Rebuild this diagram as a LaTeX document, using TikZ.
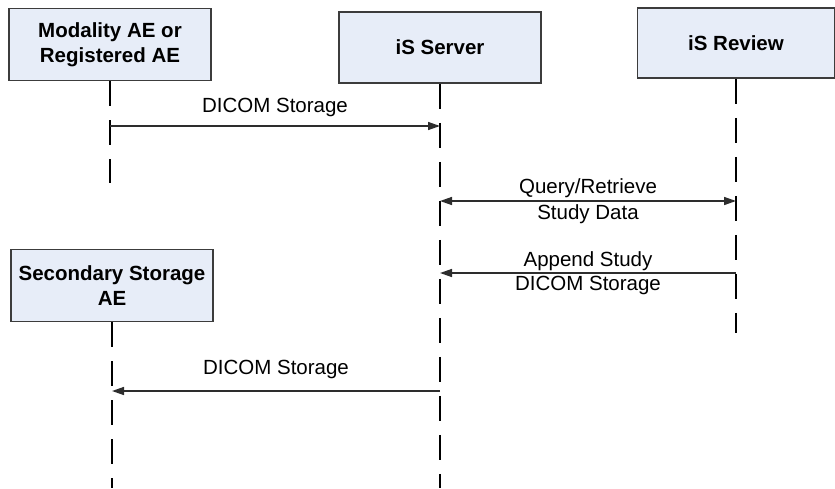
\documentclass[tikz,border=0pt]{standalone}
\usepackage{fontspec}
\setmainfont{Liberation Sans}
\usepackage{tikz}
\usetikzlibrary{arrows.meta}
\definecolor{actorfill}{RGB}{231,237,248}
\definecolor{actorline}{RGB}{60,60,60}
\definecolor{msgline}{RGB}{45,45,45}
\tikzstyle{msghead}=[>/.tip={Triangle[length=12pt,width=8pt]}]
\tikzstyle{actor}=[draw=actorline,line width=1.5pt,fill=actorfill,minimum width=202pt,minimum height=72pt,inner sep=0pt,align=center,font=\fontsize{20.5}{25}\selectfont\bfseries]
\tikzstyle{life} =[line width=2.5pt,dash pattern=on 25pt off 14pt]
\tikzstyle{msg}  =[line width=1.5pt,draw=msgline,msghead,->]
\tikzstyle{msgs} =[line width=1.5pt,draw=msgline,msghead,<->]
\tikzstyle{lbl}  =[font=\fontsize{20.5}{24}\selectfont,inner sep=2pt,align=center]

\begin{document}
\begin{tikzpicture}[x=1pt,y=-1pt]
	\useasboundingbox (0,0) rectangle (835,488);
	% participants
	\node[actor] (mod) at (110,44.5) {Modality AE or\\Registered AE};
	\node[actor,minimum height=71pt] (srv) at (440,47.5) {iS Server};
	\node[actor,minimum width=197pt,minimum height=70pt] (rev) at (736,43) {iS Review};
	\node[actor] (sec) at (112,285.5) {Secondary Storage\\AE};
	% lifelines
	\coordinate (modEnd) at (110,183);
	\coordinate (srvEnd) at (440,488);
	\coordinate (revEnd) at (736,333);
	\coordinate (secEnd) at (112,488);
	\draw[life] (mod.south) -- (modEnd);
	\draw[life] (srv.south) -- (srvEnd);
	\draw[life] (rev.south) -- (revEnd);
	\draw[life] (sec.south) -- (secEnd);
	% messages
	\coordinate (m1a) at (110,126); \coordinate (m1b) at (440,126);
	\coordinate (m2a) at (440,201); \coordinate (m2b) at (736,201);
	\coordinate (m3a) at (736,273); \coordinate (m3b) at (440,273);
	\coordinate (m4a) at (440,391); \coordinate (m4b) at (112,391);
	\draw[msg]  (m1a) --node[lbl,above=7pt] {DICOM Storage} (m1b);
	\draw[msgs] (m2a) --node[lbl,above,inner sep=3pt] {Query/Retrieve}
	                    node[lbl,below,inner sep=3pt] {Study Data} (m2b);
	\draw[msg]  (m3a) --node[lbl,above] {Append Study}
	                    node[lbl,below] {DICOM Storage} (m3b);
	\draw[msg]  (m4a) --node[lbl,above=10pt] {DICOM Storage} (m4b);
\end{tikzpicture}
\end{document}
